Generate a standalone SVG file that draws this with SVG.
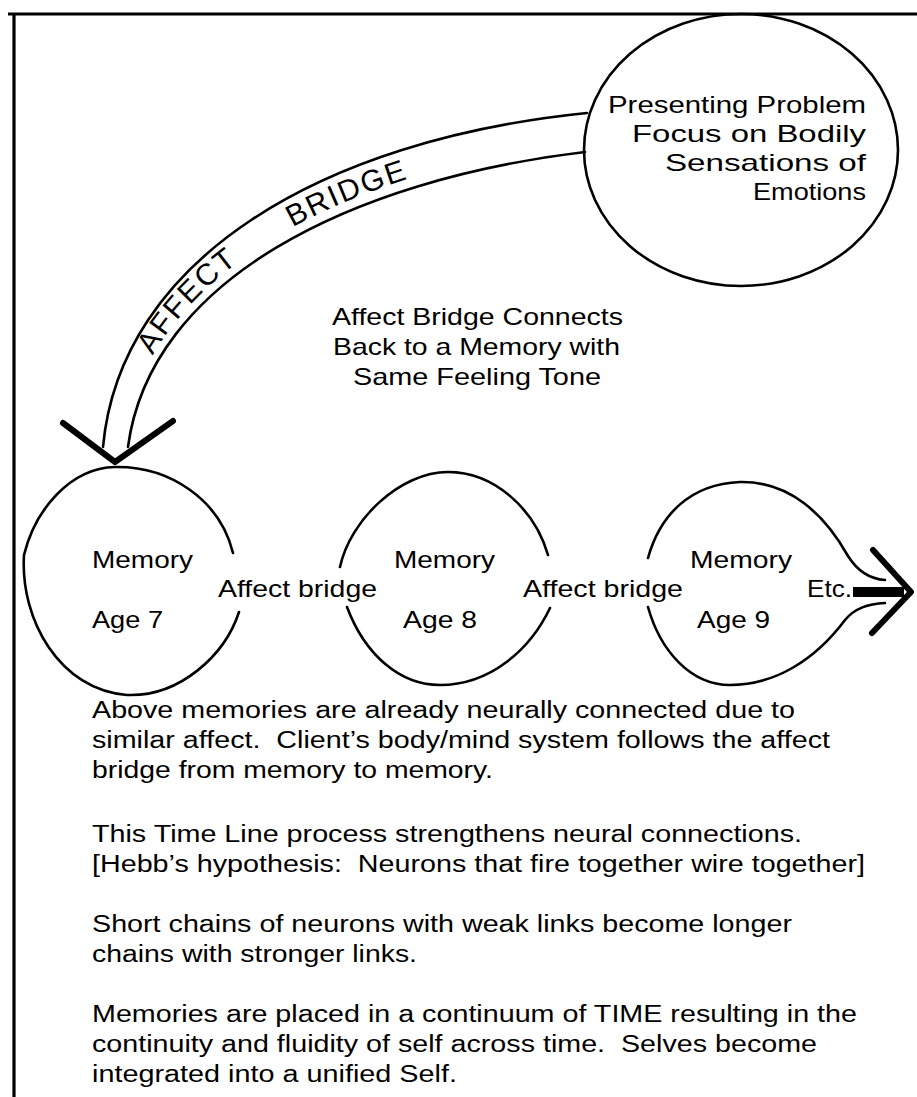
<svg xmlns="http://www.w3.org/2000/svg" width="917" height="1097" viewBox="0 0 917 1097">
<style>
.t{font-family:"Liberation Sans",Arial,sans-serif;font-size:24px;fill:#000}
.p{font-family:"Liberation Sans",Arial,sans-serif;font-size:23px;fill:#000}
.hand{font-family:"Liberation Sans",Arial,sans-serif;font-size:30px;fill:#000;letter-spacing:2px}
.ln{fill:none;stroke:#000;stroke-width:2.6;stroke-linecap:round;stroke-linejoin:round}
.thick{fill:none;stroke:#000;stroke-width:6;stroke-linecap:round;stroke-linejoin:round}
</style>
<defs>
<path id="bandText" d="M 122 448 C 142 275 342 170 585 142"/>
</defs>
<rect width="917" height="1097" fill="#fff"/>
<g id="frame">
<line x1="8" y1="14" x2="917" y2="14" stroke="#000" stroke-width="3.2"/>
<line x1="14" y1="14" x2="14" y2="1097" stroke="#000" stroke-width="3.2"/>
</g>
<g id="connectors">
<path class="ln" d="M 587 113 C 320 140 120 260 103 447"/>
<path class="ln" d="M 585 152 C 350 180 150 280 128 447"/>
<path class="thick" d="M 63 423 L 115 462 L 173 421"/>
<line x1="853" y1="592" x2="904" y2="592" stroke="#000" stroke-width="10" stroke-linecap="butt"/>
<path class="thick" d="M 873 550 L 911 592 L 872 633" stroke-width="7"/>
<text class="hand"><textPath href="#bandText" startOffset="98">AFFECT</textPath></text>
<text class="hand"><textPath href="#bandText" startOffset="290">BRIDGE</textPath></text>
</g>
<g id="presenting-problem">
<ellipse class="ln" cx="741" cy="150" rx="157" ry="136"/>
<text class="t" x="608" y="113" textLength="258" lengthAdjust="spacingAndGlyphs">Presenting Problem</text>
<text class="t" x="632" y="142" textLength="234" lengthAdjust="spacingAndGlyphs">Focus on Bodily</text>
<text class="t" x="665" y="171" textLength="201" lengthAdjust="spacingAndGlyphs">Sensations of</text>
<text class="t" x="753" y="200" textLength="113" lengthAdjust="spacingAndGlyphs">Emotions</text>
</g>
<g id="bridge-note">
<text class="t" x="332" y="325" textLength="291" lengthAdjust="spacingAndGlyphs">Affect Bridge Connects</text>
<text class="t" x="333" y="355" textLength="287" lengthAdjust="spacingAndGlyphs">Back to a Memory with</text>
<text class="t" x="353" y="385" textLength="248" lengthAdjust="spacingAndGlyphs">Same Feeling Tone</text>
</g>
<g id="memory-age-7">
<path class="ln" d="M 233 553 C 220 500 170 466 115 467 C 70 468 35 510 24 555 C 20 620 60 690 127 695 C 180 697 225 655 239 612"/>
<text class="t" x="92" y="568" textLength="101" lengthAdjust="spacingAndGlyphs">Memory</text>
<text class="t" x="92" y="628" textLength="71" lengthAdjust="spacingAndGlyphs">Age 7</text>
</g>
<g id="bridge-label-1">
<text class="t" x="218" y="597" textLength="159" lengthAdjust="spacingAndGlyphs">Affect bridge</text>
</g>
<g id="memory-age-8">
<path class="ln" d="M 340 567 C 350 520 400 472 448 472 C 495 472 535 510 548 555"/>
<path class="ln" d="M 347 607 C 365 655 400 685 440 685 C 490 685 530 650 550 608"/>
<text class="t" x="394" y="568" textLength="101" lengthAdjust="spacingAndGlyphs">Memory</text>
<text class="t" x="403" y="628" textLength="74" lengthAdjust="spacingAndGlyphs">Age 8</text>
</g>
<g id="bridge-label-2">
<text class="t" x="523" y="597" textLength="160" lengthAdjust="spacingAndGlyphs">Affect bridge</text>
</g>
<g id="memory-age-9">
<path class="ln" d="M 648 558 C 660 515 690 484 740 482 C 790 481 825 515 848 556 C 858 572 870 579 885 580"/>
<path class="ln" d="M 648 607 C 660 650 690 685 730 685 C 775 685 815 660 845 620 C 855 608 868 604 885 603"/>
<text class="t" x="690" y="568" textLength="102" lengthAdjust="spacingAndGlyphs">Memory</text>
<text class="t" x="697" y="628" textLength="73" lengthAdjust="spacingAndGlyphs">Age 9</text>
</g>
<g id="etc-label">
<text class="t" x="807" y="597" textLength="45" lengthAdjust="spacingAndGlyphs">Etc.</text>
</g>
<g id="notes">
<text class="p" x="92" y="718" textLength="703" lengthAdjust="spacingAndGlyphs">Above memories are already neurally connected due to</text>
<text class="p" x="92" y="748" textLength="738" lengthAdjust="spacingAndGlyphs">similar affect.&#160; Client’s body/mind system follows the affect</text>
<text class="p" x="92" y="778" textLength="401" lengthAdjust="spacingAndGlyphs">bridge from memory to memory.</text>
<text class="p" x="92" y="842" textLength="710" lengthAdjust="spacingAndGlyphs">This Time Line process strengthens neural connections.</text>
<text class="p" x="92" y="872" textLength="773" lengthAdjust="spacingAndGlyphs">[Hebb’s hypothesis:&#160; Neurons that fire together wire together]</text>
<text class="p" x="92" y="932" textLength="700" lengthAdjust="spacingAndGlyphs">Short chains of neurons with weak links become longer</text>
<text class="p" x="92" y="962" textLength="325" lengthAdjust="spacingAndGlyphs">chains with stronger links.</text>
<text class="p" x="92" y="1022" textLength="765" lengthAdjust="spacingAndGlyphs">Memories are placed in a continuum of TIME resulting in the</text>
<text class="p" x="92" y="1052" textLength="725" lengthAdjust="spacingAndGlyphs">continuity and fluidity of self across time.&#160; Selves become</text>
<text class="p" x="92" y="1082" textLength="365" lengthAdjust="spacingAndGlyphs">integrated into a unified Self.</text>
</g>
</svg>
